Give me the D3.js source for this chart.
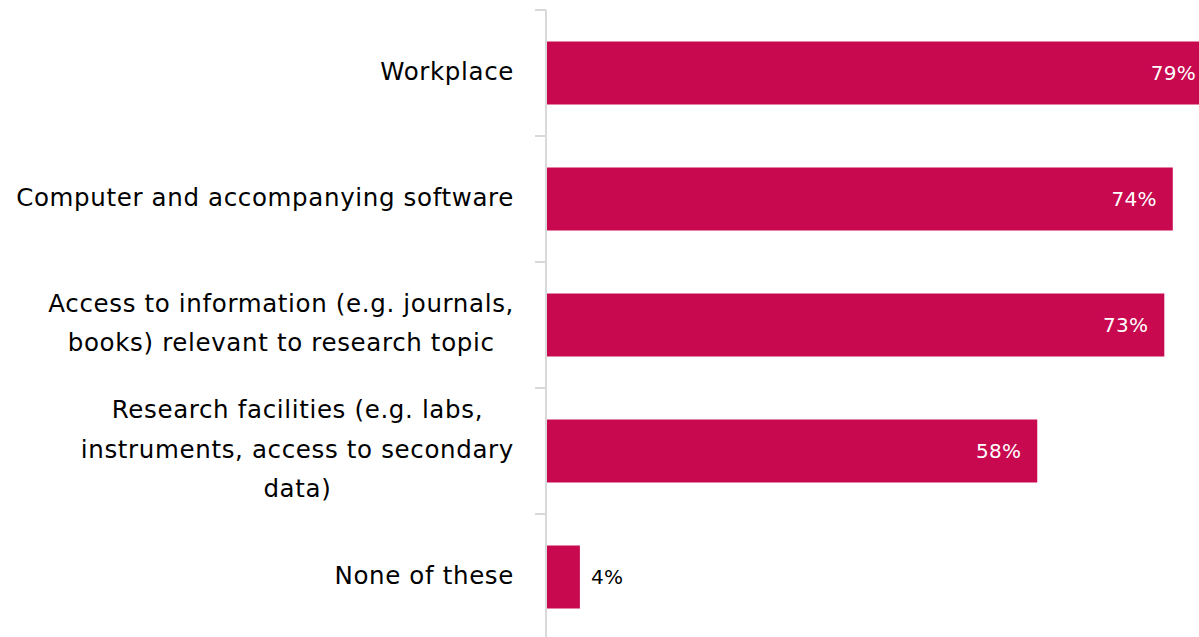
<!DOCTYPE html>
<html>
<head>
<meta charset="utf-8">
<script src="https://cdn.jsdelivr.net/npm/d3@7/dist/d3.min.js"></script>
<style>
  html, body { margin: 0; padding: 0; background: #fff; overflow: hidden; }
  svg { display: block; font-family: "DejaVu Sans", Verdana, sans-serif; }
</style>
</head>
<body>
<svg id="chart" width="1199" height="637"></svg>
<script>
// Resources available for research work (share of respondents)
const categories = [
  ["Workplace"],
  ["Computer and accompanying software"],
  ["Access to information (e.g. journals,", "books) relevant to research topic"],
  ["Research facilities (e.g. labs,", "instruments, access to secondary", "data)"],
  ["None of these"]
];
const values = [79, 74, 73, 58, 4];
const valueLabels = ["79%", "74%", "73%", "58%", "4%"];

const svg = d3.select("#chart");
const axisX = 546;
const barColor = "#c8084f";

const y = d3.scaleBand()
  .domain(d3.range(categories.length))
  .range([10, 640])
  .paddingInner(0.5)
  .paddingOuter(0.25);

const x = d3.scaleLinear().domain([0, 100]).range([axisX, 1393]);

// bars
svg.append("g").selectAll("rect")
  .data(values)
  .join("rect")
  .attr("x", x(0))
  .attr("y", (d, i) => y(i))
  .attr("width", d => x(d) - x(0))
  .attr("height", y.bandwidth())
  .attr("fill", barColor);

// category axis: line plus tick marks at band boundaries
const axis = svg.append("g");
axis.append("line")
  .attr("x1", axisX).attr("x2", axisX)
  .attr("y1", y.range()[0]).attr("y2", 637)
  .attr("stroke", "#d9d9d9").attr("stroke-width", 2);
axis.selectAll("line.tick")
  .data(d3.range(categories.length))
  .join("line")
  .attr("class", "tick")
  .attr("x1", axisX - 11).attr("x2", axisX)
  .attr("y1", i => y(i) - y.step() * y.paddingInner() / 2)
  .attr("y2", i => y(i) - y.step() * y.paddingInner() / 2)
  .attr("stroke", "#d9d9d9").attr("stroke-width", 2);

// category labels: block right-aligned, lines centred within the block
const fontSize = 24.5, lineH = 39.5;
const labels = svg.append("g");
categories.forEach((lines, i) => {
  const g = labels.append("g");
  const t = g.append("text")
    .attr("font-size", fontSize)
    .attr("letter-spacing", "0.65px")
    .attr("fill", "#000")
    .attr("text-anchor", "middle");
  const cy = y(i) + y.bandwidth() / 2 - 2;
  const top = cy - (lines.length - 1) * lineH / 2;
  lines.forEach((s, k) => {
    t.append("tspan").attr("x", 0).attr("y", top + k * lineH).attr("dy", "0.35em").text(s);
  });
  const w = t.node().getBBox().width;
  t.attr("transform", `translate(${514 - w / 2},0)`);
});

// value labels
svg.append("g").selectAll("text")
  .data(values)
  .join("text")
  .attr("font-size", 20)
  .attr("letter-spacing", "0.3px")
  .attr("dy", "0.35em")
  .attr("y", (d, i) => y(i) + y.bandwidth() / 2)
  .attr("x", d => d < 10 ? x(d) + 11 : Math.min(x(d), 1212) - 16)
  .attr("text-anchor", d => d < 10 ? "start" : "end")
  .attr("fill", d => d < 10 ? "#000" : "#fff")
  .text((d, i) => valueLabels[i]);
</script>
</body>
</html>
